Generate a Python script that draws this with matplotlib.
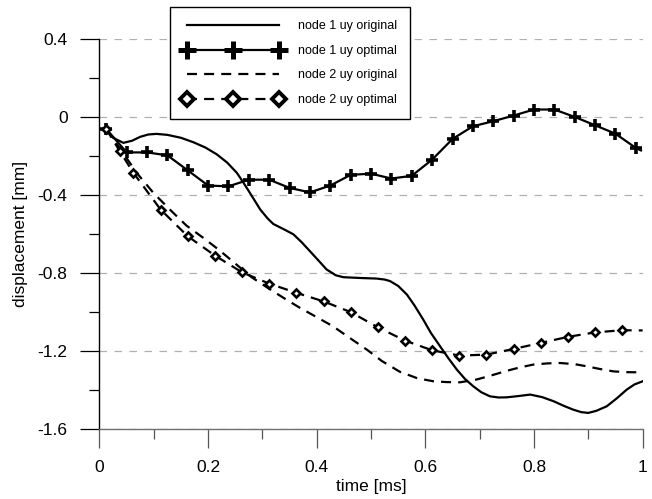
import matplotlib.pyplot as plt
from matplotlib.ticker import MultipleLocator

plt.rcParams['font.family'] = ['Liberation Sans', 'DejaVu Sans']

# node 1, original design
t_n1_orig = [0.01, 0.025, 0.044, 0.06, 0.075, 0.09, 0.105, 0.125, 0.15, 0.173,
             0.195, 0.216, 0.235, 0.253, 0.265, 0.277, 0.296, 0.31, 0.32, 0.34,
             0.357, 0.372, 0.3876, 0.405, 0.418, 0.435, 0.449, 0.48, 0.51, 0.525,
             0.535, 0.55, 0.566, 0.58, 0.596, 0.61, 0.627, 0.643, 0.658, 0.673,
             0.688, 0.703, 0.719, 0.735, 0.75, 0.77, 0.793, 0.815, 0.836, 0.855,
             0.872, 0.887, 0.9, 0.915, 0.934, 0.953, 0.971, 0.985, 1.0]
uy_n1_orig = [-0.058, -0.105, -0.131, -0.12, -0.10, -0.088, -0.085, -0.09, -0.105, -0.128,
              -0.155, -0.19, -0.232, -0.285, -0.335, -0.388, -0.473, -0.52, -0.547, -0.575,
              -0.60, -0.64, -0.687, -0.74, -0.78, -0.81, -0.82, -0.824, -0.827, -0.832,
              -0.84, -0.865, -0.909, -0.965, -1.037, -1.105, -1.174, -1.238, -1.294, -1.342,
              -1.379, -1.41, -1.431, -1.437, -1.436, -1.43, -1.422, -1.435, -1.456, -1.48,
              -1.499, -1.512, -1.516, -1.505, -1.482, -1.44, -1.396, -1.37, -1.354]

# node 1, optimal design
t_n1_opt = [0.0125, 0.05, 0.0875, 0.125, 0.1625, 0.2, 0.2375, 0.275, 0.3125, 0.35,
            0.3875, 0.425, 0.4625, 0.5, 0.5375, 0.575, 0.6125, 0.65, 0.6875, 0.725,
            0.7625, 0.8, 0.8375, 0.875, 0.9125, 0.95, 0.9875, 0.997]
uy_n1_opt = [-0.06, -0.18, -0.18, -0.195, -0.272, -0.35, -0.354, -0.32, -0.32, -0.362,
             -0.385, -0.35, -0.295, -0.289, -0.314, -0.30, -0.217, -0.111, -0.046, -0.02,
             0.009, 0.04, 0.04, 0.002, -0.041, -0.084, -0.157, -0.17]

# node 2, original design
t_n2_orig = [0.0125, 0.04, 0.07, 0.1, 0.134, 0.16, 0.192, 0.22, 0.25, 0.28,
             0.31, 0.34, 0.369, 0.4, 0.43, 0.46, 0.492, 0.52, 0.553, 0.585,
             0.615, 0.64, 0.664, 0.694, 0.72, 0.75, 0.775, 0.799, 0.825, 0.848,
             0.875, 0.897, 0.92, 0.946, 0.97, 1.0]
uy_n2_orig = [-0.06, -0.17, -0.29, -0.39, -0.485, -0.555, -0.62, -0.68, -0.75, -0.82,
              -0.875, -0.928, -0.977, -1.025, -1.072, -1.13, -1.191, -1.25, -1.305, -1.338,
              -1.354, -1.358, -1.359, -1.345, -1.325, -1.30, -1.282, -1.268, -1.262, -1.26,
              -1.266, -1.277, -1.29, -1.303, -1.307, -1.308]

# node 2, optimal design
t_n2_opt = [0.0125, 0.0375, 0.0625, 0.1125, 0.1625, 0.2125, 0.2625, 0.3125, 0.3625, 0.4125,
            0.4625, 0.5125, 0.5625, 0.6125, 0.6625, 0.7125, 0.7625, 0.8125, 0.8625, 0.9125,
            0.9625, 1.0]
uy_n2_opt = [-0.06, -0.174, -0.285, -0.473, -0.61, -0.709, -0.795, -0.853, -0.90, -0.944,
             -0.999, -1.077, -1.145, -1.195, -1.222, -1.217, -1.188, -1.157, -1.126, -1.103,
             -1.092, -1.093]

fig = plt.figure(figsize=(6.52, 4.99), dpi=100)
ax = fig.add_axes([0.1526, 0.1397, 0.833, 0.7815])

dash = (4.5, 3.2)
ax.plot(t_n1_orig, uy_n1_orig, color='black', lw=1.6, label='node 1 uy original', zorder=3)
ax.plot(t_n1_opt, uy_n1_opt, color='black', lw=1.6, marker='+', ms=8, mew=2.6,
        markevery=slice(0, len(t_n1_opt) - 1), label='node 1 uy optimal', zorder=3)
ax.plot(t_n2_orig, uy_n2_orig, color='black', lw=1.6, ls=(0, dash),
        label='node 2 uy original', zorder=3)
ax.plot(t_n2_opt, uy_n2_opt, color='black', lw=1.6, ls=(0, dash), marker='D', ms=4,
        mew=1.9, mfc='white', mec='black', markevery=slice(0, len(t_n2_opt) - 1),
        label='node 2 uy optimal', zorder=3)

ax.set_xlim(0, 1)
ax.set_ylim(-1.6, 0.4)
ax.xaxis.set_minor_locator(MultipleLocator(0.1))
ax.yaxis.set_minor_locator(MultipleLocator(0.2))
ax.set_xticks([0, 0.2, 0.4, 0.6, 0.8, 1.0])
ax.set_xticklabels(['0', '0.2', '0.4', '0.6', '0.8', '1'])
ax.set_yticks([0.4, 0, -0.4, -0.8, -1.2, -1.6])
ax.set_yticklabels(['0.4', '0', '-0.4', '-0.8', '-1.2', '-1.6'])

for s in ['top', 'right']:
    ax.spines[s].set_visible(False)
ax.spines['left'].set_linewidth(1.0)
ax.spines['bottom'].set_color('#707070')
ax.spines['bottom'].set_linewidth(1.0)

ax.tick_params(axis='both', which='major', direction='out', length=14, width=0.9,
               labelsize=12.5)
ax.tick_params(axis='both', which='minor', direction='out', length=7, width=0.9)
ax.tick_params(axis='x', which='both', color='#555555', pad=8)
ax.tick_params(axis='y', which='major', pad=9)

ax.yaxis.grid(True, which='major', color='#b0b0b0', ls=(0, (6, 6)), lw=0.9)
ax.set_axisbelow(True)

ax.set_xlabel('time [ms]', fontsize=12.5, labelpad=3)
ax.set_ylabel('displacement [mm]', fontsize=12.5, labelpad=7)

leg = ax.legend(loc='upper left', bbox_to_anchor=(0.2607, 0.9854),
                bbox_transform=fig.transFigure, borderaxespad=0, fancybox=False,
                frameon=True, edgecolor='black', framealpha=1, fontsize=9,
                handlelength=8.0, handletextpad=1.2, numpoints=3, markerscale=1.7,
                labelspacing=1.0, borderpad=1.05)
leg.get_frame().set_linewidth(1.0)
leg.set_zorder(5)
# heavier marker outlines in the legend keys
leg_lines = leg.get_lines()
leg_lines[1].set_markeredgewidth(3.6)
leg_lines[3].set_markeredgewidth(2.8)

fig.savefig('out.png', dpi=100)
